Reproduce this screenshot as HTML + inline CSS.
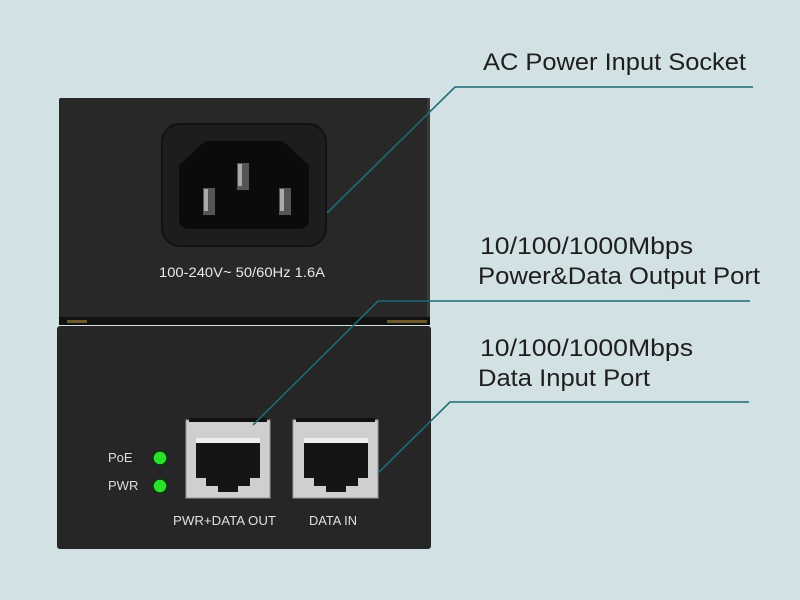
<!DOCTYPE html>
<html><head><style>
html,body{margin:0;padding:0;background:#d2e1e3;}
svg{display:block;}
</style></head><body>
<svg width="800" height="600" viewBox="0 0 800 600" xmlns="http://www.w3.org/2000/svg" font-family="Liberation Sans, sans-serif">
<rect width="800" height="600" fill="#d2e1e3"/>
<!-- top box -->
<rect x="59" y="98" width="371" height="222" rx="2" fill="#282828"/>
<rect x="427" y="98" width="3" height="222" fill="#3a3a3a"/>
<rect x="59" y="317" width="371" height="8" fill="#111"/>
<rect x="67" y="320" width="20" height="3" fill="#6b5a2a"/>
<rect x="387" y="320" width="40" height="3" fill="#6b5a2a"/>
<!-- socket -->
<rect x="162" y="124" width="164" height="122" rx="18" fill="#1d1d1d" stroke="#111" stroke-width="2"/>
<path d="M205,141 L283,141 L309,165 L309,219 Q309,229 299,229 L189,229 Q179,229 179,219 L179,165 Z" fill="#0b0b0b"/>
<rect x="203" y="188" width="12" height="27" fill="#555"/><rect x="204" y="189" width="4" height="22" fill="#aaa"/>
<rect x="237" y="163" width="12" height="27" fill="#555"/><rect x="238" y="164" width="4" height="22" fill="#aaa"/>
<rect x="279" y="188" width="12" height="27" fill="#555"/><rect x="280" y="189" width="4" height="22" fill="#aaa"/>
<text x="159" y="277" font-size="14" fill="#e8e8e8" textLength="166" lengthAdjust="spacingAndGlyphs">100-240V~ 50/60Hz 1.6A</text>
<!-- bottom box -->
<rect x="57" y="326" width="374" height="223" rx="3" fill="#262626"/>
<!-- LEDs -->
<text x="108" y="462" font-size="13" fill="#ddd">PoE</text>
<text x="108" y="490" font-size="13" fill="#ddd">PWR</text>
<circle cx="160" cy="458" r="7" fill="#2ee02e" stroke="#0a3a0a" stroke-width="1.5"/>
<circle cx="160" cy="486" r="7" fill="#2ee02e" stroke="#0a3a0a" stroke-width="1.5"/>
<!-- ports -->
<g>
<rect x="186" y="420" width="84" height="78" fill="#cfcfcf" stroke="#999" stroke-width="1"/>
<rect x="189" y="418" width="78" height="4" fill="#111"/>
<path d="M196,443 L260,443 L260,478 L250,478 L250,486 L238,486 L238,492 L218,492 L218,486 L206,486 L206,478 L196,478 Z" fill="#151515"/>
<rect x="196" y="438" width="64" height="5" fill="#eee"/>
</g>
<g>
<rect x="293" y="420" width="85" height="78" fill="#cfcfcf" stroke="#999" stroke-width="1"/>
<rect x="296" y="418" width="79" height="4" fill="#111"/>
<path d="M304,443 L368,443 L368,478 L358,478 L358,486 L346,486 L346,492 L326,492 L326,486 L314,486 L314,478 L304,478 Z" fill="#151515"/>
<rect x="304" y="438" width="64" height="5" fill="#eee"/>
</g>
<text x="173" y="525" font-size="13" fill="#e0e0e0" textLength="103" lengthAdjust="spacingAndGlyphs">PWR+DATA OUT</text>
<text x="309" y="525" font-size="13" fill="#e0e0e0" textLength="48" lengthAdjust="spacingAndGlyphs">DATA IN</text>
<!-- leader lines -->
<g stroke="#1d6b74" stroke-width="1.6" fill="none">
<polyline points="327,213 455,87 753,87"/>
<polyline points="253,425 378,301 750,301"/>
<polyline points="378,473 450,402 749,402"/>
</g>
<!-- labels -->
<g font-size="24" fill="#1e1e1e">
<text x="483" y="70" textLength="263" lengthAdjust="spacingAndGlyphs">AC Power Input Socket</text>
<text x="480" y="254" textLength="213" lengthAdjust="spacingAndGlyphs">10/100/1000Mbps</text>
<text x="478" y="284" textLength="282" lengthAdjust="spacingAndGlyphs">Power&amp;Data Output Port</text>
<text x="480" y="356" textLength="213" lengthAdjust="spacingAndGlyphs">10/100/1000Mbps</text>
<text x="478" y="386" textLength="172" lengthAdjust="spacingAndGlyphs">Data Input Port</text>
</g>
</svg>
</body></html>
